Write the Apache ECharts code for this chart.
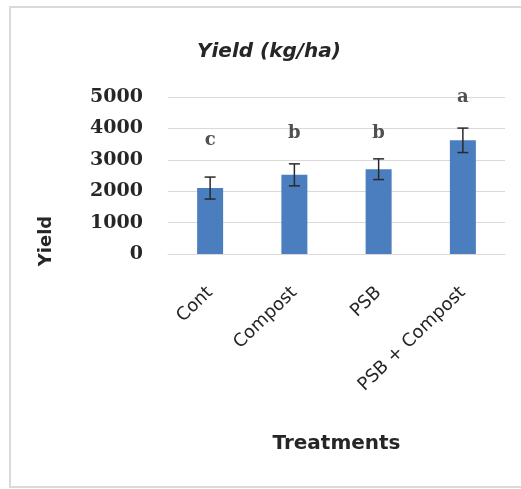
<!DOCTYPE html>
<html><head><meta charset="utf-8">
<script src="https://cdn.jsdelivr.net/npm/echarts@6/dist/echarts.min.js"></script>
<style>html,body{margin:0;padding:0;background:#fff}#c{width:521px;height:489px}</style>
</head><body><div id="c"></div>
<script>
const categories = ['Cont', 'Compost', 'PSB', 'PSB + Compost'];
const yieldValues = [2100, 2520, 2700, 3620];
const errorValues = [350, 350, 330, 390];
const sigLetters = ['c', 'b', 'b', 'a'];
const letterLevels = [3620, 3850, 3850, 5000];
const yTicks = [0, 1000, 2000, 3000, 4000, 5000];

const chart = echarts.init(document.getElementById('c'));
chart.setOption({
  animation: false,
  backgroundColor: '#fff',
  graphic: [
    {type: 'rect', shape: {x: 10, y: 7, width: 540, height: 480},
      style: {fill: 'none', stroke: '#d9d9d9', lineWidth: 2}},
    {type: 'text', x: 46, y: 241, rotation: Math.PI / 2,
      style: {text: 'Yield', align: 'center', verticalAlign: 'middle',
        font: 'bold 18px "DejaVu Sans"', fill: '#262626'}}
  ],
  title: {text: 'Yield (kg/ha)', left: 264, top: 37, textAlign: 'center',
    textStyle: {fontFamily: 'DejaVu Sans', fontWeight: 'bold', fontStyle: 'italic', fontSize: 20, color: '#262626'}},
  grid: {left: 168, right: 16, top: 97, bottom: 235},
  xAxis: {type: 'category', data: categories,
    name: 'Treatments', nameLocation: 'middle', nameGap: 180,
    nameTextStyle: {fontFamily: 'DejaVu Sans', fontWeight: 'bold', fontSize: 20, color: '#262626'},
    axisLine: {show: true, lineStyle: {color: '#d9d9d9'}}, axisTick: {show: false},
    axisLabel: {rotate: 44, margin: 36, fontFamily: 'DejaVu Sans', fontSize: 18, color: '#262626', interval: 0}},
  yAxis: {type: 'value', min: yTicks[0], max: yTicks[yTicks.length - 1], interval: 1000,
    axisLine: {show: false}, axisTick: {show: false},
    splitLine: {lineStyle: {color: '#d9d9d9', width: 1}},
    axisLabel: {margin: 25, formatter: v => String(v), fontFamily: 'DejaVu Serif', fontWeight: 'bold', fontSize: 19, color: '#262626'}},
  series: [
    {type: 'bar', data: yieldValues, barWidth: 26, itemStyle: {color: '#4a7ebf'}},
    {type: 'custom', data: yieldValues.map((v, i) => [i, v, errorValues[i]]), z: 10,
      renderItem: function (params, api) {
        const x = api.value(0), v = api.value(1), e = api.value(2);
        const top = api.coord([x, v + e]), bot = api.coord([x, v - e]);
        const hw = 5.5;
        const st = {stroke: '#2a2a2a', lineWidth: 1.5};
        return {type: 'group', children: [
          {type: 'line', shape: {x1: top[0], y1: top[1], x2: bot[0], y2: bot[1]}, style: st},
          {type: 'line', shape: {x1: top[0] - hw, y1: top[1], x2: top[0] + hw, y2: top[1]}, style: st},
          {type: 'line', shape: {x1: bot[0] - hw, y1: bot[1], x2: bot[0] + hw, y2: bot[1]}, style: st}
        ]};
      }},
    {type: 'scatter', symbolSize: 0, data: letterLevels.map((v, i) => [i, v]),
      label: {show: true, position: 'inside', formatter: p => sigLetters[p.dataIndex],
        fontFamily: 'DejaVu Serif', fontWeight: 'bold', fontSize: 18, color: '#262626'}}
  ]
});
</script></body></html>
